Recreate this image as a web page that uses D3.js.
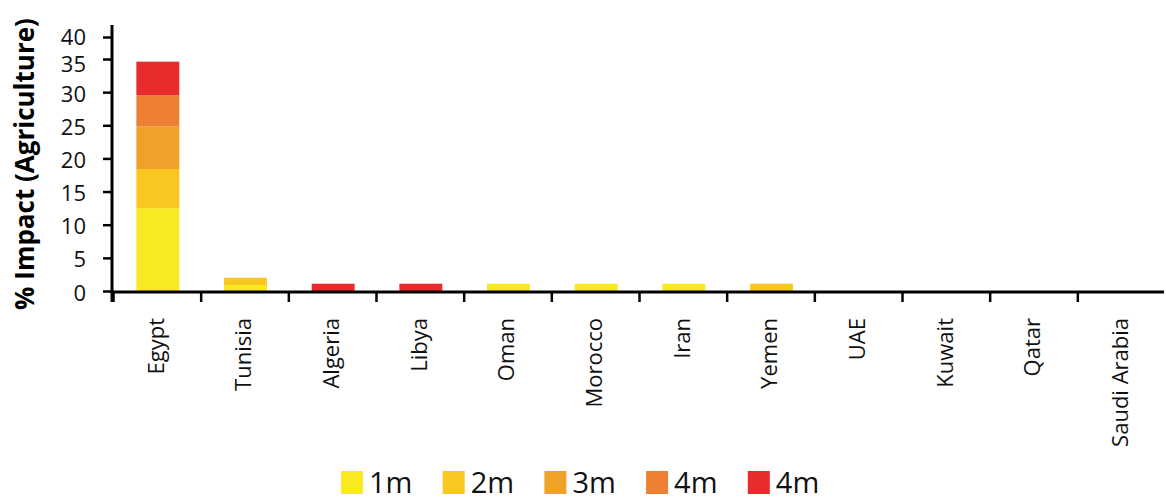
<!DOCTYPE html>
<html>
<head>
<meta charset="utf-8">
<script src="https://cdnjs.cloudflare.com/ajax/libs/d3/7.8.5/d3.min.js"></script>
<style>
  body { margin: 0; background: #fff; }
  svg { font-family: "Open Sans", "Noto Sans", sans-serif; }
</style>
</head>
<body>
<div id="canvas"></div>
<script>
"use strict";

// chart size
let svgWidth = 1166;
let svgHeight = 500;

// data
const countries = ["Egypt", "Tunisia", "Algeria", "Libya", "Oman", "Morocco",
  "Iran", "Yemen", "UAE", "Kuwait", "Qatar", "Saudi Arabia"];
const seriesLabels = ["1m", "2m", "3m", "4m", "4m"];
const seriesColors = ["#f8e922", "#f9c820", "#f0a12a", "#ee8033", "#e82c2e"];
const s1 = [12.5, 0.9, 0, 0, 1.1, 1.1, 1.1, 0, 0, 0, 0, 0];
const s2 = [5.9, 1.1, 0, 0, 0, 0, 0, 1.1, 0, 0, 0, 0];
const s3 = [6.4, 0, 0, 0, 0, 0, 0, 0, 0, 0, 0, 0];
const s4 = [4.7, 0, 0, 0, 0, 0, 0, 0, 0, 0, 0, 0];
const s5 = [5.1, 0, 1.1, 1.1, 0, 0, 0, 0, 0, 0, 0, 0];
const yTicks = [0, 5, 10, 15, 20, 25, 30, 35, 40];

const series = [s1, s2, s3, s4, s5];
const keys = series.map((s, i) => "k" + i);

// table for d3.stack
const table = countries.map((c, j) => {
  const row = { country: c };
  keys.forEach((k, i) => { row[k] = series[i][j]; });
  return row;
});

const svg = d3.select("#canvas")
  .append("svg")
  .attr("width", svgWidth)
  .attr("height", svgHeight);

// scales (top tick of the original axis sits closer than the rest)
const yScale = d3.scaleLinear()
  .domain([0, 35, 40])
  .range([291, 59, 37]);

const xScale = d3.scaleBand()
  .domain(countries)
  .range([113, 1165]);

const edgeScale = d3.scaleLinear()
  .domain([0, countries.length])
  .range([113, 1165]);

const colorScale = d3.scaleOrdinal().domain(keys).range(seriesColors);

// stacked bars
const stacked = d3.stack().keys(keys)(table);
const barW = xScale.bandwidth() * 0.49;

svg.append("g")
  .selectAll("g")
  .data(stacked)
  .join("g")
  .attr("fill", d => colorScale(d.key))
  .selectAll("rect")
  .data(d => d)
  .join("rect")
  .attr("x", d => xScale(d.data.country) + xScale.bandwidth() / 2 - barW / 2 + 1)
  .attr("y", d => yScale(d[1]))
  .attr("width", barW)
  .attr("height", d => yScale(d[0]) - yScale(d[1]));

// y axis
const yAxis = svg.append("g")
  .attr("transform", "translate(112,0)")
  .attr("font-family", null)
  .call(d3.axisLeft(yScale).tickValues(yTicks).tickSize(9).tickPadding(17));
yAxis.attr("font-family", null).attr("font-size", null);
yAxis.select(".domain").remove();
yAxis.selectAll(".tick line").attr("stroke", "#000").attr("stroke-width", 2.5);
// labels of the two top ticks are spread apart a little in the original
const labelNudge = { 40: -2, 35: 3 };
yAxis.selectAll(".tick text")
  .attr("font-size", "22px")
  .attr("fill", "#111")
  .attr("y", d => 2 + (labelNudge[d] || 0));

svg.append("line")
  .attr("x1", 112).attr("x2", 112)
  .attr("y1", 25).attr("y2", 302)
  .attr("stroke", "#000").attr("stroke-width", 3);

// x axis: ticks at category edges
const xAxis = svg.append("g")
  .attr("transform", "translate(0,292)")
  .call(d3.axisBottom(edgeScale).tickValues(d3.range(0, countries.length)).tickSize(10).tickFormat(""));
xAxis.select(".domain").remove();
xAxis.selectAll(".tick line").attr("stroke", "#000").attr("stroke-width", 2.5);

svg.append("line")
  .attr("x1", 112).attr("x2", 1164)
  .attr("y1", 292).attr("y2", 292)
  .attr("stroke", "#000").attr("stroke-width", 3);

// category labels
svg.append("g")
  .selectAll("text")
  .data(countries)
  .join("text")
  .attr("transform", d => `translate(${xScale(d) + xScale.bandwidth() / 2 - 1},318) rotate(-90)`)
  .attr("text-anchor", "end")
  .attr("dy", "0.36em")
  .attr("font-size", "22px")
  .attr("fill", "#111")
  .text(d => d);

// y title
svg.append("text")
  .attr("transform", "rotate(-90)")
  .attr("x", -164)
  .attr("y", 34)
  .attr("text-anchor", "middle")
  .attr("font-size", "26px")
  .attr("font-weight", "bold")
  .attr("fill", "#000")
  .text("% Impact (Agriculture)");

// legend
const legend = svg.append("g")
  .attr("transform", "translate(341,471)");

seriesLabels.forEach((lab, i) => {
  legend.append("rect")
    .attr("x", i * 101.7)
    .attr("y", 0)
    .attr("width", 22)
    .attr("height", 23)
    .attr("fill", seriesColors[i]);
  legend.append("text")
    .attr("x", i * 101.7 + 28)
    .attr("y", 22)
    .attr("font-size", "29px")
    .attr("fill", "#111")
    .text(lab);
});
</script>
</body>
</html>
